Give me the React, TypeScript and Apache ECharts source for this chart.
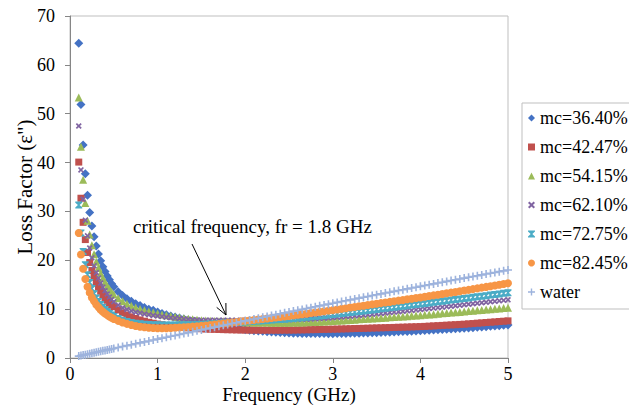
import React, { useEffect, useRef } from "react";
import * as echarts from "echarts";

const freqs = [0.1,0.125,0.15,0.175,0.2,0.225,0.25,0.275,0.3,0.325,0.35,0.375,0.4,0.425,0.45,0.475,0.5,
0.55,0.6,0.65,0.7,0.75,0.8,0.85,0.9,0.95,1,
1.05,1.1,1.15,1.2,1.25,1.3,1.35,1.4,1.45,1.5,
1.55,1.6,1.65,1.7,1.75,1.8,1.85,1.9,1.95,2,
2.05,2.1,2.15,2.2,2.25,2.3,2.35,2.4,2.45,2.5,
2.55,2.6,2.65,2.7,2.75,2.8,2.85,2.9,2.95,3,
3.05,3.1,3.15,3.2,3.25,3.3,3.35,3.4,3.45,3.5,
3.55,3.6,3.65,3.7,3.75,3.8,3.85,3.9,3.95,4,
4.05,4.1,4.15,4.2,4.25,4.3,4.35,4.4,4.45,4.5,
4.55,4.6,4.65,4.7,4.75,4.8,4.85,4.9,4.95,5];

const mc3640 = [64.4,51.9,43.6,37.7,33.3,29.8,27.0,24.8,22.9,21.3,19.9,18.7,17.7,16.8,16.0,15.2,14.6,
13.55,12.8,12.15,11.6,11.12,10.75,10.33,10.0,9.75,9.4,
9.13,8.86,8.62,8.41,8.19,7.98,7.8,7.61,7.46,7.3,
7.11,6.91,6.73,6.57,6.41,6.27,6.14,6.01,5.88,5.77,
5.68,5.6,5.52,5.45,5.39,5.33,5.27,5.22,5.16,5.12,
5.08,5.06,5.04,5.03,5.02,5.01,5.0,4.99,4.98,4.98,
4.99,5.01,5.03,5.05,5.07,5.09,5.11,5.13,5.16,5.18,
5.21,5.25,5.29,5.32,5.36,5.4,5.44,5.48,5.52,5.56,
5.61,5.66,5.71,5.76,5.82,5.87,5.92,5.98,6.03,6.08,
6.15,6.21,6.28,6.35,6.41,6.48,6.54,6.61,6.68,6.75];

const mc4247 = [40.1,32.7,27.77,24.24,21.6,19.54,17.9,16.55,15.43,14.48,13.67,12.97,12.35,11.81,11.32,10.89,10.5,
9.83,9.27,8.81,8.42,8.08,7.79,7.53,7.31,7.12,6.95,
6.8,6.66,6.54,6.43,6.33,6.25,6.17,6.1,6.04,5.99,
5.94,5.9,5.87,5.84,5.81,5.79,5.77,5.75,5.74,5.73,
5.72,5.71,5.71,5.7,5.7,5.7,5.7,5.7,5.71,5.71,
5.72,5.74,5.76,5.78,5.8,5.81,5.84,5.86,5.88,5.9,
5.92,5.95,5.97,6.0,6.03,6.05,6.07,6.1,6.13,6.16,
6.18,6.21,6.23,6.26,6.29,6.31,6.34,6.37,6.4,6.43,
6.47,6.52,6.57,6.62,6.67,6.72,6.77,6.82,6.87,6.92,
6.99,7.05,7.13,7.19,7.26,7.33,7.39,7.47,7.53,7.6];

const mc5415 = [53.3,43.22,36.5,31.7,28.1,25.3,23.06,21.23,19.7,18.41,17.3,16.34,15.5,14.76,14.1,13.51,12.98,
12.21,11.6,11.1,10.7,10.34,10.05,9.77,9.52,9.3,9.11,
8.91,8.74,8.58,8.44,8.29,8.16,8.03,7.91,7.82,7.71,
7.66,7.61,7.57,7.53,7.51,7.48,7.43,7.39,7.35,7.32,
7.3,7.28,7.27,7.26,7.25,7.24,7.24,7.24,7.24,7.24,
7.26,7.27,7.29,7.32,7.35,7.39,7.43,7.48,7.53,7.58,
7.63,7.69,7.74,7.8,7.85,7.91,7.96,8.02,8.08,8.14,
8.2,8.26,8.32,8.38,8.44,8.51,8.57,8.63,8.7,8.76,
8.83,8.91,8.98,9.06,9.14,9.21,9.29,9.37,9.44,9.52,
9.6,9.68,9.75,9.83,9.91,9.99,10.07,10.15,10.23,10.31];

const mc6210 = [47.5,38.5,32.5,28.21,25.0,22.5,20.5,18.86,17.5,16.35,15.36,14.5,13.75,13.09,12.5,11.97,11.5,
10.83,10.3,9.92,9.63,9.37,9.2,9.0,8.85,8.71,8.6,
8.47,8.35,8.25,8.17,8.08,7.99,7.92,7.85,7.8,7.75,
7.74,7.72,7.73,7.72,7.73,7.73,7.72,7.71,7.71,7.7,
7.71,7.7,7.72,7.73,7.74,7.75,7.77,7.79,7.81,7.82,
7.85,7.87,7.91,7.94,7.99,8.03,8.08,8.13,8.2,8.25,
8.33,8.4,8.48,8.56,8.63,8.71,8.79,8.87,8.95,9.04,
9.13,9.21,9.3,9.39,9.48,9.56,9.66,9.74,9.84,9.93,
10.02,10.12,10.21,10.31,10.41,10.51,10.6,10.7,10.8,10.9,
11.0,11.1,11.2,11.3,11.4,11.5,11.6,11.7,11.8,11.9];

const mc7275 = [31.3,25.6,21.8,19.09,17.05,15.47,14.2,13.16,12.3,11.57,10.94,10.4,9.93,9.51,9.13,8.8,8.5,
8.07,7.73,7.47,7.27,7.11,6.99,6.9,6.84,6.81,6.8,
6.77,6.76,6.76,6.77,6.77,6.78,6.8,6.82,6.85,6.88,
6.93,6.97,7.02,7.08,7.14,7.19,7.25,7.29,7.35,7.41,
7.46,7.52,7.58,7.64,7.7,7.76,7.82,7.88,7.94,8.01,
8.1,8.17,8.25,8.34,8.43,8.52,8.6,8.69,8.79,8.89,
8.99,9.1,9.2,9.31,9.42,9.52,9.63,9.74,9.85,9.95,
10.06,10.17,10.28,10.39,10.5,10.61,10.72,10.83,10.94,11.05,
11.16,11.28,11.39,11.5,11.62,11.73,11.85,11.96,12.07,12.18,
12.3,12.42,12.53,12.65,12.76,12.88,13.0,13.11,13.23,13.35];

const mc8245 = [25.6,21.2,18.27,16.17,14.6,13.38,12.4,11.6,10.93,10.37,9.89,9.47,9.1,8.78,8.49,8.23,8.0,
7.6,7.27,6.98,6.74,6.55,6.4,6.29,6.19,6.14,6.1,
6.1,6.1,6.13,6.18,6.23,6.29,6.35,6.42,6.49,6.57,
6.66,6.76,6.85,6.95,7.06,7.16,7.27,7.38,7.49,7.6,
7.69,7.79,7.89,7.99,8.09,8.19,8.29,8.4,8.5,8.6,
8.72,8.84,8.96,9.07,9.2,9.32,9.44,9.56,9.69,9.8,
9.93,10.06,10.19,10.32,10.45,10.58,10.71,10.84,10.97,11.1,
11.23,11.36,11.48,11.61,11.75,11.88,12.01,12.13,12.27,12.4,
12.54,12.68,12.82,12.95,13.1,13.24,13.38,13.52,13.65,13.8,
13.95,14.1,14.25,14.4,14.55,14.7,14.85,15.0,15.15,15.3];

const water = [0.39,0.49,0.59,0.69,0.78,0.88,0.98,1.08,1.17,1.27,1.37,1.47,1.56,1.66,1.76,1.85,1.95,
2.14,2.34,2.53,2.72,2.91,3.1,3.3,3.49,3.68,3.87,
4.06,4.25,4.44,4.62,4.81,5.0,5.19,5.38,5.56,5.75,
5.94,6.12,6.31,6.49,6.68,6.86,7.05,7.23,7.42,7.6,
7.78,7.97,8.15,8.33,8.51,8.69,8.87,9.06,9.24,9.42,
9.6,9.78,9.95,10.13,10.31,10.49,10.67,10.85,11.02,11.2,
11.38,11.55,11.73,11.9,12.08,12.25,12.43,12.6,12.78,12.95,
13.12,13.3,13.47,13.64,13.81,13.98,14.15,14.32,14.49,14.67,
14.83,15.0,15.17,15.34,15.51,15.68,15.85,16.01,16.18,16.35,
16.52,16.68,16.85,17.01,17.18,17.35,17.51,17.67,17.84,18.0];

const seriesNames = ["mc=36.40%", "mc=42.47%", "mc=54.15%", "mc=62.10%", "mc=72.75%", "mc=82.45%", "water"];
const seriesValues = [mc3640, mc4247, mc5415, mc6210, mc7275, mc8245, water];
const xTicks = { min: 0, max: 5, interval: 1 };
const yTicks = { min: 0, max: 70, interval: 10 };

const SERIF = "Liberation Serif";
const X_PATH = "path://M0,2 L2,0 L5,3 L8,0 L10,2 L7,5 L10,8 L8,10 L5,7 L2,10 L0,8 L3,5 Z";
const PLUS_PATH = "path://M4,0 L6,0 L6,4 L10,4 L10,6 L6,6 L6,10 L4,10 L4,6 L0,6 L0,4 L4,4 Z";
const STAR_PATH = "path://M0,0 L10,0 L10,1.6 L6.2,5 L10,8.4 L10,10 L0,10 L0,8.4 L3.8,5 L0,1.6 Z";

const styles = [
  { color: "#4472C4", symbol: "diamond", size: 9 },
  { color: "#C0504D", symbol: "rect", size: 7 },
  { color: "#9BBB59", symbol: "triangle", size: 8 },
  { color: "#8064A2", symbol: X_PATH, size: 6 },
  { color: "#4BACC6", symbol: STAR_PATH, size: 7 },
  { color: "#F79646", symbol: "circle", size: 8 },
  { color: "#9DB3DD", symbol: PLUS_PATH, size: 8 },
];

export default function App() {
  const ref = useRef<HTMLDivElement>(null);
  useEffect(() => {
    const chart = echarts.init(ref.current!, null, { renderer: "svg" });
    const series = seriesNames.map((name, k) => ({
      type: "scatter",
      name,
      data: freqs.map((f, i) => [f, seriesValues[k][i]]).filter((p) => p[1] !== undefined),
      symbol: styles[k].symbol,
      symbolSize: styles[k].size,
      itemStyle: { color: styles[k].color, opacity: 1 },
      silent: true,
    }));
    chart.setOption({
      animation: false,
      backgroundColor: "#fff",
      grid: {
        left: 70, top: 16, width: 438, height: 342,
        containLabel: false, outerBoundsMode: "none",
        show: true, borderColor: "#BFBFBF", borderWidth: 1, backgroundColor: "transparent",
      },
      xAxis: {
        type: "value",
        ...xTicks,
        name: "Frequency (GHz)",
        nameLocation: "middle",
        nameMoveOverlap: false,
        nameGap: 27,
        nameTextStyle: { fontFamily: SERIF, fontSize: 19, color: "#000", lineHeight: 19 },
        axisLine: { show: true, lineStyle: { color: "#868686", width: 1 } },
        axisTick: { show: true, length: 5, lineStyle: { color: "#868686" } },
        axisLabel: { fontFamily: SERIF, fontSize: 18, color: "#000", margin: 7, lineHeight: 18 },
        splitLine: { show: false },
      },
      yAxis: {
        type: "value",
        ...yTicks,
        name: "Loss Factor (ε\")",
        nameLocation: "middle",
        nameMoveOverlap: false,
        nameGap: 35,
        nameTextStyle: { fontFamily: SERIF, fontSize: 21, color: "#000" },
        axisLine: { show: true, lineStyle: { color: "#868686", width: 1 } },
        axisTick: { show: true, length: 5, lineStyle: { color: "#868686" } },
        axisLabel: { fontFamily: SERIF, fontSize: 18, color: "#000", margin: 15 },
        splitLine: { show: false },
      },
      legend: {
        orient: "vertical",
        left: 522,
        top: 103,
        padding: [6, 20, 8, 6],
        itemWidth: 7,
        itemHeight: 7,
        itemGap: 11,
        borderColor: "#BFBFBF",
        borderWidth: 1,
        textStyle: { fontFamily: SERIF, fontSize: 18, color: "#000", lineHeight: 18 },
        data: seriesNames,
      },
      graphic: [
        {
          type: "text",
          style: { x: 133, y: 226, text: "critical frequency, fr = 1.8 GHz", font: "19px Liberation Serif", fill: "#000", verticalAlign: "middle" },
        },
        { type: "line", shape: { x1: 192, y1: 244, x2: 226, y2: 315 }, style: { stroke: "#000", lineWidth: 1 } },
        { type: "polyline", shape: { points: [[216.7, 307.4], [226, 315], [225.9, 303]] }, style: { stroke: "#000", fill: null, lineWidth: 1 } },
      ],
      series,
    });
    return () => chart.dispose();
  }, []);
  return <div ref={ref} style={{ position: "fixed", left: 0, top: 0, width: 629, height: 405 }} />;
}
